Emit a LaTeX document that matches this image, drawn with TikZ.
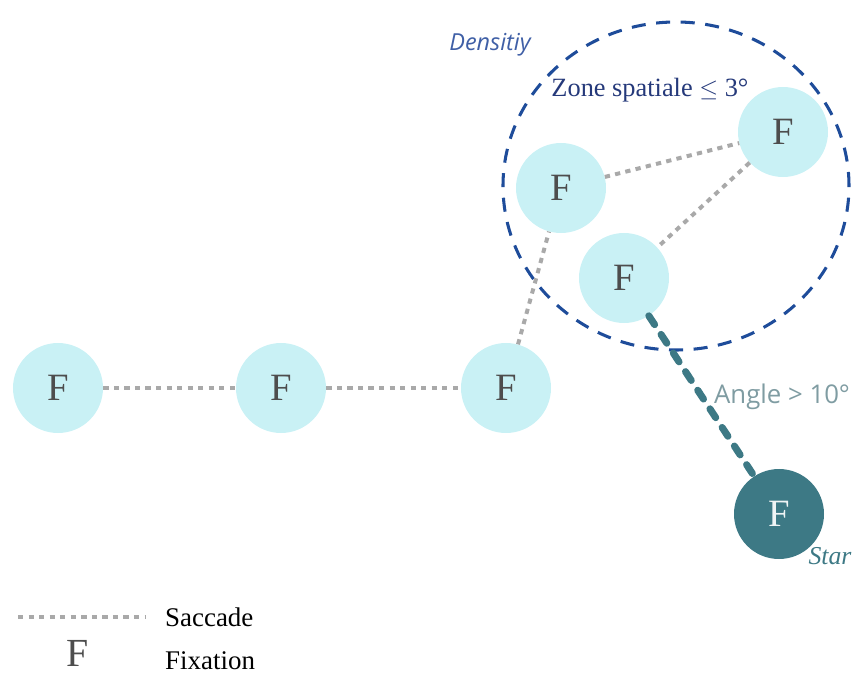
\documentclass[tikz,border=0pt]{standalone}
\usepackage{fontspec}
\setmainfont{Liberation Serif}
\newfontfamily\opensans{Open Sans}
\usepackage{tikz}

\definecolor{fixlight}{HTML}{C9F1F5}
\definecolor{fixdark}{HTML}{3D7985}
\definecolor{zoneblue}{HTML}{1E4C9A}
\definecolor{densblue}{HTML}{3F5FA6}
\definecolor{zonetext}{HTML}{25397A}
\definecolor{angletext}{HTML}{7F9CA2}
\definecolor{sacgray}{HTML}{A9A9A9}
\definecolor{ftext}{HTML}{4D4D4D}

\tikzset{
    fix/.style={circle, fill=fixlight, minimum size=2.7cm, inner sep=0pt,
        text=ftext, font=\fontsize{33}{33}\selectfont},
    fixstar/.style={fix, fill=fixdark, text=white!92!fixdark},
    saccade/.style={sacgray, line width=3.4pt, dash pattern=on 4.5pt off 4.5pt},
    bigangle/.style={fixdark, line width=6pt, line cap=round, dash pattern=on 9pt off 10pt}
}

\begin{document}
\begin{tikzpicture}[x=0.03cm, y=-0.03cm]
    \useasboundingbox (0,0) rectangle (854,675);

        % zone
        \draw[zoneblue, line width=2.6pt, dash pattern=on 12pt off 9pt]
            (676,186) ellipse [x radius=5.19cm, y radius=4.92cm];
        \node[text=densblue, font=\opensans\itshape\fontsize{20}{20}\selectfont] (dens) at (490,45) {Densitiy};
        \node[text=zonetext, font=\fontsize{22.5}{22.5}\selectfont] (zone) at (650,90) {Zone spatiale $\leq$ 3°};

        % fixations
        \node[fix] (f1) at ( 58,388) {F};
        \node[fix] (f2) at (281,388) {F};
        \node[fix] (f3) at (506,388) {F};
        \node[fix] (f4) at (561,188) {F};
        \node[fix] (f5) at (783,132) {F};
        \node[fix] (f6) at (624,278) {F};
        \node[fixstar] (star) at (779,514) {F};

        % saccades
        \draw[saccade] (f1) -- (f2);
        \draw[saccade] (f2) -- (f3);
        \draw[saccade] (f3) -- (f4);
        \draw[saccade] (f4) -- (f5);
        \draw[saccade] (f5) -- (f6);
        \draw[bigangle] (f6) -- (star);

        \node[anchor=west, text=angletext, font=\opensans\fontsize{22}{22}\selectfont] (angle) at (710,397) {Angle > 10°};
        \node[text=fixdark, font=\itshape\fontsize{22}{22}\selectfont] (startxt) at (830,556) {Star};

        % legend
        \coordinate (l1) at (18,617);
        \coordinate (l2) at (145,617);
        \draw[saccade] (l1) -- (l2);
        \node[anchor=west, font=\fontsize{23}{23}\selectfont] (lsac) at (161,617) {Saccade};
        \node[anchor=base, inner sep=0pt, text=ftext, font=\fontsize{34}{34}\selectfont] (lf) at (78,666) {F};
        \node[anchor=west, font=\fontsize{23}{23}\selectfont] (lfix) at (161,661) {Fixation};
    \end{tikzpicture}
\end{document}
